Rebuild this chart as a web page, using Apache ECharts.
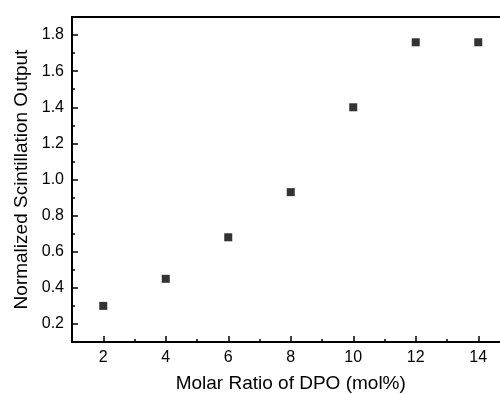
<!DOCTYPE html>
<html><head><meta charset="utf-8">
<script src="https://cdn.jsdelivr.net/npm/echarts@6/dist/echarts.min.js"></script>
<style>html,body{margin:0;padding:0;background:#fff}#c{width:500px;height:394px}</style>
</head><body><div id="c"></div>
<script>
var dpoRatio = [2, 4, 6, 8, 10, 12, 14];
var scintOutput = [0.30, 0.45, 0.68, 0.93, 1.40, 1.76, 1.76];
var xTickValues = [2, 4, 6, 8, 10, 12, 14];
var yTickValues = [0.2, 0.4, 0.6, 0.8, 1.0, 1.2, 1.4, 1.6, 1.8];

var font = 'Liberation Sans, Arial, sans-serif';
var chart = echarts.init(document.getElementById('c'), null, {renderer: 'canvas'});
var lineStyle = {color: '#000', width: 2};
chart.setOption({
  animation: false,
  grid: {left: 72, top: 17, width: 437.5, height: 325, outerBoundsMode: 'none', containLabel: false,
    show: true, borderColor: '#000', borderWidth: 2, backgroundColor: 'transparent'},
  xAxis: [{
    type: 'value', min: 1, max: 15, position: 'bottom',
    name: 'Molar Ratio of DPO (mol%)', nameLocation: 'middle', nameGap: 32,
    nameTextStyle: {fontFamily: font, fontSize: 19, color: '#000'},
    axisLine: {show: true, onZero: false, lineStyle: lineStyle},
    axisTick: {show: true, inside: true, length: 6, lineStyle: {color: '#000', width: 1.5}, customValues: xTickValues},
    axisLabel: {fontFamily: font, fontSize: 16, color: '#000', margin: 8, customValues: xTickValues,
      formatter: function (v) { return String(v); }},
    splitLine: {show: false}
  }, {
    type: 'value', min: 1, max: 15, interval: 1, position: 'bottom',
    axisLine: {show: false, onZero: false},
    axisTick: {show: true, inside: true, length: 3, lineStyle: {color: '#000', width: 1.5}},
    axisLabel: {show: false}, splitLine: {show: false}
  }],
  yAxis: [{
    type: 'value', min: 0.1, max: 1.9, position: 'left',
    name: 'Normalized Scintillation Output', nameLocation: 'middle', nameGap: 33,
    nameTextStyle: {fontFamily: font, fontSize: 19, color: '#000'},
    axisLine: {show: true, onZero: false, lineStyle: lineStyle},
    axisTick: {show: true, inside: true, length: 6, lineStyle: {color: '#000', width: 1.5}, customValues: yTickValues},
    axisLabel: {fontFamily: font, fontSize: 16, color: '#000', margin: 8, customValues: yTickValues,
      formatter: function (v) { return v.toFixed(1); }},
    splitLine: {show: false}
  }, {
    type: 'value', min: 0.1, max: 1.9, interval: 0.1, position: 'left',
    axisLine: {show: false, onZero: false},
    axisTick: {show: true, inside: true, length: 3, lineStyle: {color: '#000', width: 1.5}},
    axisLabel: {show: false}, splitLine: {show: false}
  }],
  series: [{
    type: 'scatter', xAxisIndex: 0, yAxisIndex: 0,
    symbol: 'rect', symbolSize: 8,
    itemStyle: {color: '#000'},
    data: dpoRatio.map(function (x, i) { return [x, scintOutput[i]]; })
  }]
});
</script></body></html>
